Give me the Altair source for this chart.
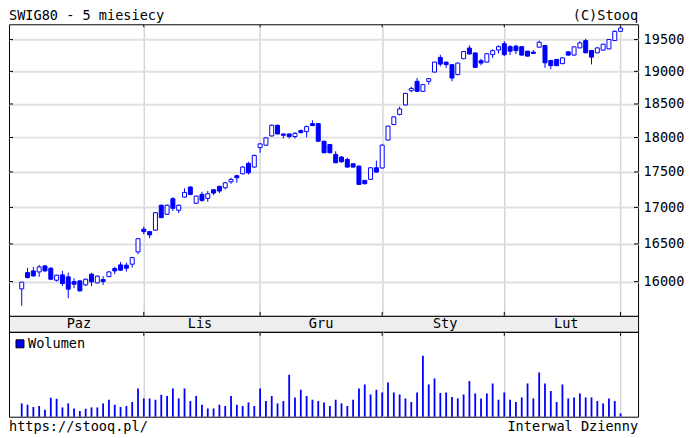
import altair as alt
import pandas as pd
import numpy as np

# ---- data (daily candles, Oct -> 1 Mar) ----
opens = [15905, 16118, 16140, 16127, 16206, 16176, 16018, 16088, 16062, 16000,
         16009, 15957, 16097, 15983, 16026, 16065, 16171, 16220, 16216, 16229,
         16393,
         16700, 16667, 16687, 17030, 16905, 17121, 16960, 17144, 17285, 17058,
         17182, 17126, 17247, 17295, 17275, 17360, 17446, 17474, 17623, 17570,
         17852, 17887, 18023, 18181, 18052, 18052, 18014, 18102, 18087, 18205,
         18205, 17945, 17897, 17752, 17714, 17680, 17617, 17584, 17380, 17394,
         17560,
         17557, 17962, 18191, 18343, 18485, 18702, 18846, 18692, 18846, 18989,
         19217, 19144, 19104, 18949, 19197, 19365, 19288, 19166, 19144, 19262,
         19334,
         19434, 19387, 19395, 19387, 19316, 19301, 19379, 19406, 19170, 19186,
         19120, 19305, 19254, 19368, 19484, 19327, 19290, 19332, 19352, 19484,
         19632]
highs = [15995, 16180, 16193, 16220, 16215, 16190, 16090, 16140, 16118, 16044,
         16020, 16040, 16114, 16080, 16071, 16135, 16197, 16259, 16250, 16326,
         16576,
         16735, 16676, 16935, 17040, 17040, 17144, 17040, 17266, 17300, 17165,
         17219, 17230, 17257, 17305, 17360, 17417, 17460, 17585, 17646, 17750,
         17915, 18000, 18190, 18190, 18055, 18060, 18080, 18117, 18176, 18255,
         18210, 17950, 17900, 17800, 17730, 17705, 17625, 17590, 17385, 17565,
         17663,
         17900, 18175, 18315, 18460, 18668, 18763, 18897, 18800, 18890, 19150,
         19259, 19148, 19110, 19135, 19315, 19407, 19295, 19197, 19280, 19344,
         19407,
         19473, 19410, 19418, 19395, 19320, 19332, 19484, 19415, 19175, 19190,
         19218, 19315, 19390, 19473, 19513, 19333, 19375, 19432, 19508, 19648,
         19696]
lows = [15686, 16042, 16062, 16062, 16130, 16020, 16000, 15944, 15784, 15914,
        15870, 15945, 15940, 15975, 15957, 16058, 16097, 16140, 16131, 16184,
        16363,
        16632, 16579, 16680, 16850, 16895, 16950, 16920, 17140, 17170, 17050,
        17079, 17079, 17172, 17201, 17252, 17332, 17346, 17465, 17465, 17560,
        17776, 17880, 18015, 18045, 17985, 17985, 17985, 18058, 18003, 18170,
        17935, 17770, 17770, 17625, 17632, 17560, 17565, 17320, 17325, 17390,
        17490,
        17550, 17955, 18185, 18328, 18478, 18677, 18680, 18685, 18795, 18985,
        19077, 19051, 18846, 18940, 19190, 19262, 19055, 19093, 19138, 19206,
        19279,
        19238, 19254, 19269, 19246, 19230, 19277, 19375, 19054, 19034, 19080,
        19112, 19246, 19246, 19363, 19285, 19108, 19283, 19325, 19345, 19480,
        19628]
closes = [15992, 16052, 16075, 16193, 16140, 16031, 16084, 15974, 15901, 15966,
          15879, 16031, 15996, 16071, 16000, 16127, 16140, 16150, 16176, 16317,
          16571,
          16667, 16623, 16927, 16859, 17030, 16988, 17030, 17210, 17182, 17158,
          17098, 17191, 17201, 17229, 17346, 17394, 17417, 17570, 17488, 17738,
          17906, 17994, 18181, 18052, 18033, 18014, 18062, 18072, 18161, 18176,
          17945, 17776, 17776, 17632, 17646, 17570, 17570, 17323, 17332, 17560,
          17498,
          17888, 18168, 18306, 18425, 18661, 18737, 18692, 18795, 18887, 19144,
          19113, 19104, 18896, 19129, 19310, 19272, 19062, 19129, 19275, 19324,
          19387,
          19261, 19316, 19324, 19254, 19238, 19280, 19458, 19133, 19089, 19089,
          19211, 19254, 19384, 19447, 19290, 19222, 19368, 19426, 19500, 19631,
          19684]
volumes = [13.3, 12, 9.7, 10.7, 7, 19, 18, 9.3, 13.3, 8.3,
           5.7, 8, 9.3, 9.3, 13.3, 17, 12, 9.7, 10.7, 14.7,
           28.3,
           18.3, 18.3, 17, 22, 20.7, 28.3, 18.3, 28.3, 15.7, 20.7,
           12, 8.3, 8.3, 12, 10.7, 20.7, 12, 10.7, 14.3, 10.7,
           28.3, 15.7, 20.7, 13.3, 15.7, 42, 19.3, 27, 20.7, 17,
           15.7, 14.3, 10.7, 17, 13.3, 10.7, 17, 28.3, 32.3, 22.3,
           27,
           24.3, 34.3, 24.3, 22.3, 18.3, 14.7, 24.3, 61, 32.3, 38.3,
           23.7, 24.3, 19.7, 18.3, 22.3, 35.7, 23.3, 18.3, 23.3, 33.3,
           17,
           24.3, 17, 14.7, 19.3, 33.3, 18.3, 44.3, 33.3, 25.7, 14.7,
           32.3, 18.3, 19.3, 23.3, 19.3, 19.3, 15.7, 13.3, 18.3, 15.7,
           3.3]
month_labels = ["Paz", "Lis", "Gru", "Sty", "Lut"]
month_starts = [21, 41, 62, 83, 103]   # index of first session of each month
y_ticks = [16000, 16500, 17000, 17500, 18000, 18500, 19000, 19500]

title_text = "SWIG80 - 5 miesiecy"
copy_text = "(C)Stooq"
legend_text = "Wolumen"
url_text = "https://stooq.pl/"
interval_text = "Interwal Dzienny"

# ---- styling ----
W = 630
PH = 292
SH = 16
VH = 85
BLUE = "#0000ff"
FONT = "DejaVu Sans Mono"
FS = 13.6

df = pd.DataFrame({"i": np.arange(len(opens)), "open": opens, "high": highs,
                   "low": lows, "close": closes, "vol": volumes})
df["fillc"] = np.where(df["close"] >= df["open"], "white", BLUE)

bounds = [0] + month_starts
centers = [(a + b) / 2 for a, b in zip(bounds[:-1], bounds[1:])]
lab_df = pd.DataFrame({"c": centers, "lab": month_labels})
mdf = pd.DataFrame({"m": month_starts})
ytick_df = pd.DataFrame({"v": y_ticks})

xscale = alt.Scale(domain=[-1.33, 105.15], nice=False, zero=False)
xaxis = alt.Axis(values=month_starts, grid=True, gridColor="#d6d6d6", gridWidth=1.5,
                 labels=False, ticks=False, domain=False, title=None,
                 minExtent=0, maxExtent=0)
yscale = alt.Scale(type="log", domain=[15558, 19745], nice=False)
yaxis = alt.Axis(orient="right", values=y_ticks, format="d", grid=True,
                 gridColor="#e0e0e0", gridWidth=2, ticks=False, domain=False,
                 labelFont=FONT, labelFontSize=FS, labelColor="black",
                 labelPadding=5, title=None)

X = lambda f: alt.X(f, scale=xscale, axis=xaxis)
Y = lambda f: alt.Y(f, scale=yscale, axis=yaxis)

wicks = alt.Chart(df).mark_rule(color=BLUE, strokeWidth=1).encode(
    x=X("i:Q"), y=Y("low:Q"), y2="high:Q")
bodies = alt.Chart(df).mark_bar(size=4, stroke=BLUE, strokeWidth=1).encode(
    x=X("i:Q"), y=Y("open:Q"), y2="close:Q", fill=alt.Fill("fillc:N", scale=None))
ytl = alt.Chart(ytick_df).mark_rule(color="black").encode(
    y=Y("v:Q"), x=alt.value(0), x2=alt.value(4))
ytr = alt.Chart(ytick_df).mark_rule(color="black").encode(
    y=Y("v:Q"), x=alt.value(W - 4), x2=alt.value(W))
mt_top = alt.Chart(mdf).mark_rule(color="black").encode(
    x=X("m:Q"), y=alt.value(0), y2=alt.value(3))
mt_bot = alt.Chart(mdf).mark_rule(color="black").encode(
    x=X("m:Q"), y=alt.value(PH - 4), y2=alt.value(PH))

def label(txt, x, y, align="left"):
    return alt.Chart(pd.DataFrame({"t": [txt]})).mark_text(
        align=align, baseline="middle", font=FONT, fontSize=FS, color="black"
    ).encode(text="t:N", x=alt.value(x), y=alt.value(y))

price = alt.layer(
    wicks, bodies, ytl, ytr, mt_top, mt_bot,
    label(title_text, 0, -8), label(copy_text, W, -8, "right"),
).properties(width=W, height=PH)

strip = alt.Chart(lab_df).mark_text(
    font=FONT, fontSize=FS, color="black", baseline="middle", align="center"
).encode(
    x=alt.X("c:Q", scale=xscale, axis=None), y=alt.value(SH / 2), text="lab:N"
).properties(width=W, height=SH,
             view=alt.ViewBackground(fill="#eeeeee", stroke="black"))

vbars = alt.Chart(df).mark_bar(size=1.8, color=BLUE).encode(
    x=X("i:Q"), y=alt.Y("vol:Q", scale=alt.Scale(domain=[0, VH]), axis=None))
vt_top = alt.Chart(mdf).mark_rule(color="black").encode(
    x=X("m:Q"), y=alt.value(0), y2=alt.value(4))
leg_sq = alt.Chart(pd.DataFrame({"t": [legend_text]})).mark_square(
    size=64, fill=BLUE, stroke="black", strokeWidth=1, opacity=1
).encode(x=alt.value(11), y=alt.value(12))

volume = alt.layer(
    vbars, vt_top, leg_sq, label(legend_text, 19, 12),
    label(url_text, 0, VH + 10), label(interval_text, W, VH + 10, "right"),
).properties(width=W, height=VH)

chart = alt.vconcat(price, strip, volume, spacing=0, bounds="flush").configure_view(
    stroke="black", strokeWidth=1
).properties(padding=0, background="white")

chart.save("out.html", embed_options={"renderer": "svg", "actions": False})
